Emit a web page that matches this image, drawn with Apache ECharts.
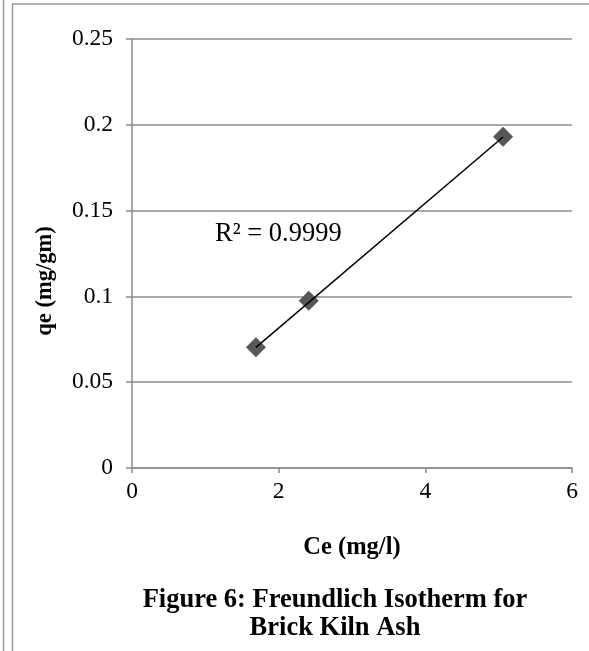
<!DOCTYPE html>
<html>
<head>
<meta charset="utf-8">
<script src="https://cdn.jsdelivr.net/npm/echarts@6/dist/echarts.min.js"></script>
<style>
  html, body { margin: 0; padding: 0; background: #fff; }
  #chart { width: 589px; height: 651px; }
</style>
</head>
<body>
<div id="chart"></div>
<script>
// measured points (Ce, qe)
const ceValues = [1.69, 2.41, 5.06]
const qeValues = [0.0703, 0.0975, 0.1930]
// trendline ends as drawn in the figure
const trendCe = [1.69, 5.06]
const trendQe = [0.0703, 0.1929]
const rSquaredText = 'R² = 0.9999'
const xTicks = { min: 0, max: 6, interval: 2 }
const yTicks = { min: 0, max: 0.25, interval: 0.05 }

const serif = '"Liberation Serif", "Times New Roman", serif'
const gridGray = '#8c8c8c'

const chart = echarts.init(document.getElementById('chart'))

const option = {
  animation: false,
  backgroundColor: '#fff',
  textStyle: { fontFamily: serif },
  title: {
    text: 'Figure 6: Freundlich Isotherm for\nBrick Kiln Ash',
    left: 330,
    top: 581,
    textAlign: 'center',
    textStyle: {
      fontFamily: serif,
      fontWeight: 'bold',
      fontSize: 26.5,
      lineHeight: 28,
      color: '#000'
    }
  },
  grid: { left: 132, right: 17, top: 39, bottom: 183 },
  xAxis: {
    type: 'value',
    min: xTicks.min,
    max: xTicks.max,
    interval: xTicks.interval,
    name: 'Ce (mg/l)',
    nameLocation: 'middle',
    nameGap: 67,
    nameTextStyle: { fontFamily: serif, fontWeight: 'bold', fontSize: 24.5, color: '#000' },
    axisLine: { lineStyle: { color: gridGray, width: 1.5 } },
    axisTick: { show: true, length: 5, lineStyle: { color: gridGray, width: 1.5 } },
    axisLabel: { margin: 12, fontFamily: serif, fontSize: 23.5, color: '#000' },
    splitLine: { show: false }
  },
  yAxis: {
    type: 'value',
    min: yTicks.min,
    max: yTicks.max,
    interval: yTicks.interval,
    axisLine: { show: true, lineStyle: { color: gridGray, width: 1.5 } },
    axisTick: { show: true, length: 6, lineStyle: { color: gridGray, width: 1.5 } },
    axisLabel: {
      margin: 19,
      fontFamily: serif,
      fontSize: 23.5,
      color: '#000',
      formatter: v => String(+v.toFixed(2))
    },
    splitLine: { show: true, lineStyle: { color: gridGray, width: 1.5 } }
  },
  series: [
    {
      name: 'trend',
      type: 'line',
      data: trendCe.map((x, i) => [x, trendQe[i]]),
      showSymbol: false,
      lineStyle: { color: '#000', width: 1.5 },
      silent: true,
      z: 3
    },
    {
      name: 'qe',
      type: 'scatter',
      data: ceValues.map((x, i) => [x, qeValues[i]]),
      symbol: 'diamond',
      symbolSize: [20, 20],
      itemStyle: { color: '#575757', opacity: 1 },
      z: 2
    }
  ],
  graphic: [
    {
      type: 'text',
      left: 215,
      top: 221,
      style: { text: rSquaredText, font: '26.5px ' + serif, fill: '#000' }
    },
    // y axis title sits below the middle in the original
    {
      type: 'text',
      x: 45,
      y: 281,
      rotation: Math.PI / 2,
      style: {
        text: 'qe (mg/gm)',
        font: 'bold 22.5px ' + serif,
        fill: '#000',
        align: 'center',
        verticalAlign: 'middle'
      }
    },
    // page frame lines at the left and top
    { type: 'line', shape: { x1: 3.5, y1: 0, x2: 3.5, y2: 651 }, style: { stroke: '#9a9a9a', lineWidth: 1.5 } },
    { type: 'line', shape: { x1: 12.5, y1: 4, x2: 12.5, y2: 651 }, style: { stroke: '#9a9a9a', lineWidth: 1.5 } },
    { type: 'line', shape: { x1: 12, y1: 4, x2: 589, y2: 4 }, style: { stroke: '#9a9a9a', lineWidth: 1.5 } }
  ]
}

chart.setOption(option)
</script>
</body>
</html>
